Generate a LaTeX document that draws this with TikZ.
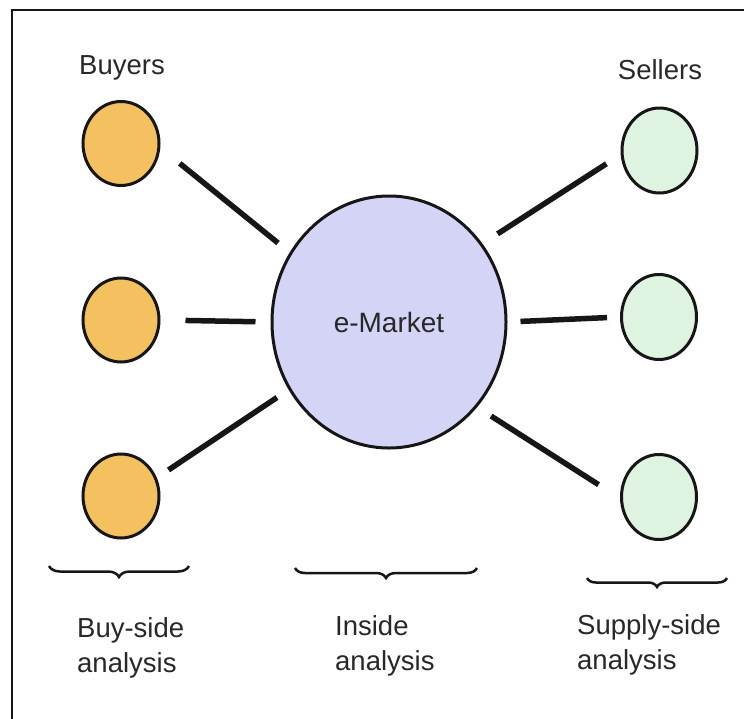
\documentclass[tikz,border=0pt]{standalone}
\usepackage{fontspec}
\setmainfont{Liberation Sans}
\usetikzlibrary{shapes.geometric,decorations.pathreplacing}
\definecolor{buyfill}{RGB}{245,192,95}
\definecolor{sellfill}{RGB}{222,243,224}
\definecolor{mktfill}{RGB}{212,212,246}
\definecolor{ink}{RGB}{22,22,22}
\definecolor{txt}{RGB}{40,40,40}
\tikzset{
  lbl/.style={text=txt, inner sep=0pt, font=\fontsize{27.5}{35}\selectfont},
  buyer/.style={ellipse, draw=ink, line width=3pt, fill=buyfill, minimum width=76pt, minimum height=84pt, inner sep=0pt},
  seller/.style={ellipse, draw=ink, line width=3pt, fill=sellfill, minimum width=75pt, minimum height=85pt, inner sep=0pt},
  market/.style={ellipse, draw=ink, line width=3pt, fill=mktfill, minimum width=234pt, minimum height=252pt, inner sep=0pt, text=txt, font=\fontsize{28}{35}\selectfont},
  conn/.style={draw=ink, line width=5.5pt},
  bracestyle/.style={draw=ink, line width=2.5pt, decorate, decoration={brace, mirror, amplitude=#1}},
  frame/.style={draw=ink, line width=2pt}
}
\begin{document}
\begin{tikzpicture}[x=1pt,y=-1pt]
\useasboundingbox (0,0) rectangle (744,718);
\clip (0,0) rectangle (744,718);
\fill[white] (0,0) rectangle (744,718);
\draw[frame] (12,10) rectangle (770,740);

\node[buyer] (b1) at (121,143.5) {};
\node[buyer] (b2) at (121,320) {};
\node[buyer] (b3) at (121,496) {};
\node[seller] (s1) at (659.5,150.5) {};
\node[seller] (s2) at (659,317) {};
\node[seller] (s3) at (659,497) {};
\node[market] (m) at (389,322) {e-Market};

\node[lbl, anchor=base] (buyers) at (122,74) {Buyers};
\node[lbl, anchor=base] (sellers) at (660,79) {Sellers};

\draw[conn, shorten <=25pt, shorten >=15pt] (b1.-6.4) -- (m.145.5);
\draw[conn, shorten <=25pt, shorten >=15pt] (b2.east) -- (m.west);
\draw[conn, shorten <=14pt, shorten >=14pt] (b3.27.9) -- (m.-146.3);
\draw[conn, shorten <=18pt, shorten >=17pt] (m.40.5) -- (s1.-174.5);
\draw[conn, shorten <=13pt, shorten >=13pt] (m.east) -- (s2.west);
\draw[conn, shorten <=16.5pt, shorten >=25.5pt] (m.-44) -- (s3.182.7);

\coordinate (bl) at (49,566);  \coordinate (br) at (189,566);
\coordinate (il) at (295,568); \coordinate (ir) at (477,568);
\coordinate (sl) at (587,578); \coordinate (sr) at (727,578);
\draw[bracestyle=11pt] (bl) -- (br);
\draw[bracestyle=10pt] (il) -- (ir);
\draw[bracestyle=9pt] (sl) -- (sr);

\node[lbl, anchor=base west, align=left] (buylbl) at (77,672) {Buy-side\\analysis};
\node[lbl, anchor=base west, align=left] (inlbl) at (335,670) {Inside\\analysis};
\node[lbl, anchor=base west, align=left] (suplbl) at (577,669) {Supply-side\\analysis};
\end{tikzpicture}
\end{document}
